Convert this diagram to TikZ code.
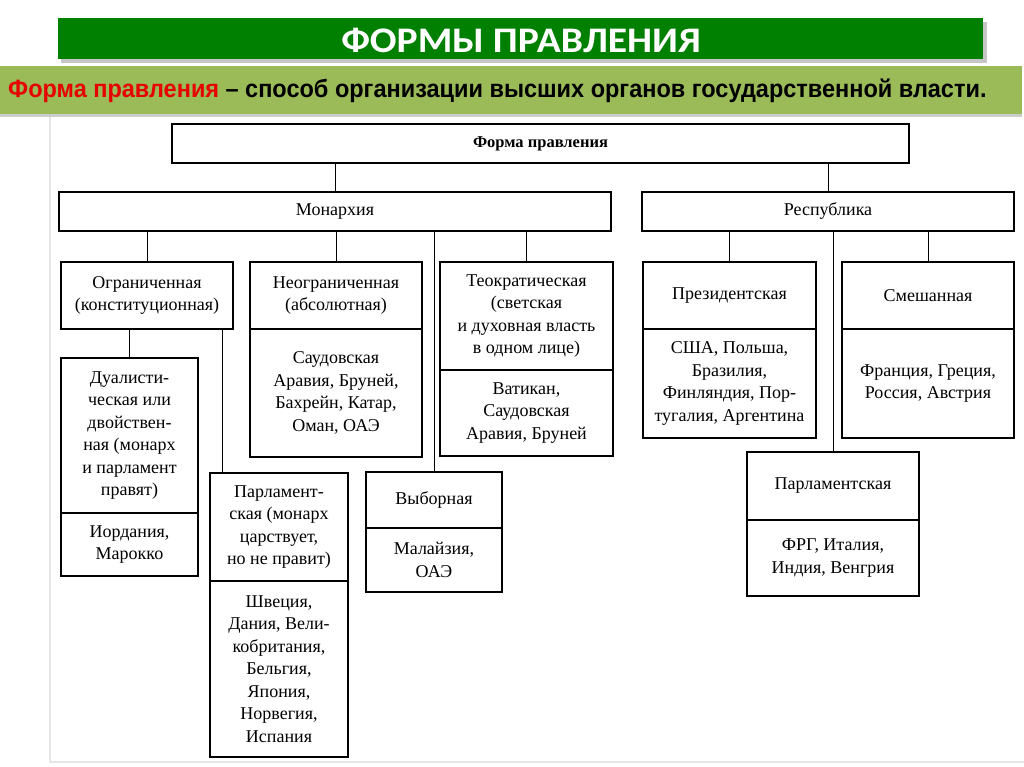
\documentclass[tikz,border=0pt]{standalone}
\usepackage{fontspec}
\setmainfont{Liberation Serif}
\newfontfamily\headfont[FakeStretch=1.1]{Carlito}
\newfontfamily\narrowfont[FakeStretch=0.94]{Liberation Sans}
\usepackage{tikz}
\usepackage{xcolor}
\usetikzlibrary{positioning}

\definecolor{headgreen}{RGB}{0,128,0}
\definecolor{bandgreen}{RGB}{155,187,89}
\definecolor{defred}{RGB}{230,0,0}

\tikzset{
  cell/.style={draw, line width=1.1pt, outer sep=0pt, inner sep=2pt, align=center,
    font=\fontsize{18}{22.5}\selectfont},
  link/.style={line width=1pt},
}

\begin{document}
\begin{tikzpicture}[x=1pt, y=-1pt]
    \useasboundingbox (0,0) rectangle (1024,767);
    \fill[white] (0,0) rectangle (1024,767);

    % Slide frame
    \draw[gray!20, line width=2pt] (50,116) -- (50,762) -- (1024,762);

    % Title bar
    \fill[gray!45] (61,22) rectangle (987,63);
    \fill[headgreen] (58,18) rectangle (983,59);
    \node[text=white, font=\headfont\bfseries\fontsize{36}{38}\selectfont] (title) at (521,40) {ФОРМЫ ПРАВЛЕНИЯ};

    % Definition band
    \fill[gray!40] (0,112) rectangle (1022,117);
    \fill[bandgreen] (0,66) rectangle (1022,114);
    \node[anchor=west, inner sep=0pt, font=\narrowfont\bfseries\fontsize{25}{28}\selectfont] (def) at (8,91)
        {\textcolor{defred}{Форма правления} – способ организации высших органов государственной власти.};

    % Top levels
    \node[cell, minimum width=737pt, minimum height=39pt, font=\bfseries\fontsize{16.5}{20}\selectfont] (forma) at (540.5,143.5) {Форма правления};
    \node[cell, minimum width=552pt, minimum height=39pt] (mon) at (335,211.5) {Монархия};
    \node[cell, minimum width=372pt, minimum height=39pt] (resp) at (828,211.5) {Республика};

    % Monarchy
    \node[cell, minimum width=172pt, minimum height=67pt] (ogr) at (147,295.5) {Ограниченная\\(конституционная)};
    \node[cell, minimum width=172pt, minimum height=67pt] (neogr) at (336,295.5) {Неограниченная\\(абсолютная)};
    \node[cell, below=0pt of neogr, minimum width=172pt, minimum height=128pt] (neogrList) {Саудовская\\Аравия, Бруней,\\Бахрейн, Катар,\\Оман, ОАЭ};
    \node[cell, minimum width=173pt, minimum height=108pt] (teokr) at (526.5,316) {Теократическая\\(светская\\и духовная власть\\в одном лице)};
    \node[cell, below=0pt of teokr, minimum width=173pt, minimum height=86pt] (teokrList) {Ватикан,\\Саудовская\\Аравия, Бруней};
    \node[cell, minimum width=137pt, minimum height=155pt] (dual) at (129.5,435.5) {Дуалисти-\\ческая или\\двойствен-\\ная (монарх\\и парламент\\правят)};
    \node[cell, below=0pt of dual, minimum width=137pt, minimum height=63pt] (dualList) {Иордания,\\Марокко};
    \node[cell, minimum width=138pt, minimum height=108pt] (parlM) at (279,527) {Парламент-\\ская (монарх\\царствует,\\но не правит)};
    \node[cell, below=0pt of parlM, minimum width=138pt, minimum height=176pt] (parlMList) {Швеция,\\Дания, Вели-\\кобритания,\\Бельгия,\\Япония,\\Норвегия,\\Испания};
    \node[cell, minimum width=136pt, minimum height=56pt] (vyb) at (434,500) {Выборная};
    \node[cell, below=0pt of vyb, minimum width=136pt, minimum height=64pt] (vybList) {Малайзия,\\ОАЭ};

    % Republic
    \node[cell, minimum width=173pt, minimum height=67pt] (prez) at (729.5,295.5) {Президентская};
    \node[cell, below=0pt of prez, minimum width=173pt, minimum height=109pt] (prezList) {США, Польша,\\Бразилия,\\Финляндия, Пор-\\тугалия, Аргентина};
    \node[cell, minimum width=172pt, minimum height=67pt] (smesh) at (928,295.5) {Смешанная};
    \node[cell, below=0pt of smesh, minimum width=172pt, minimum height=109pt] (smeshList) {Франция, Греция,\\Россия, Австрия};
    \node[cell, minimum width=172pt, minimum height=68pt] (parlR) at (833,486) {Парламентская};
    \node[cell, below=0pt of parlR, minimum width=172pt, minimum height=76pt] (parlRList) {ФРГ, Италия,\\Индия, Венгрия};

    % Links
    \foreach \up/\down in {forma/mon, forma/resp, mon/ogr, mon/neogr, mon/vyb, mon/teokr,
                           resp/prez, resp/parlR, resp/smesh, ogr/dual}
        \draw[link] (\down.north) -- (\down.north |- \up.south);
    \draw[link] ([xshift=12pt]parlM.north west) -- ([xshift=12pt]parlM.north west |- ogr.south);
\end{tikzpicture}
\end{document}
